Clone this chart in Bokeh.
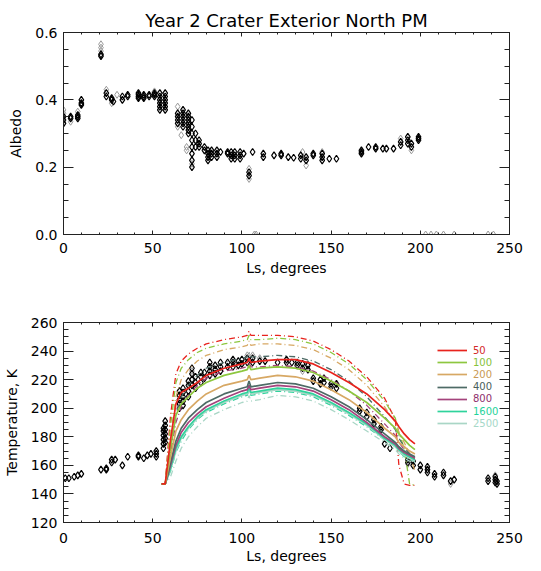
from bokeh.plotting import figure
from bokeh.layouts import column
from bokeh.models import (Range1d, LinearAxis, FixedTicker, PrintfTickFormatter,
                          CustomJSTickFormatter, Legend, LegendItem)
from bokeh.embed import file_html
from bokeh.resources import INLINE

FONT = "DejaVu Sans"

# ---------------- data ----------------
x_ticks = [0, 50, 100, 150, 200, 250]
x_minor = [10, 20, 30, 40, 60, 70, 80, 90, 110, 120, 130, 140, 160, 170, 180, 190, 210, 220, 230, 240]
alb_ticks = [0.0, 0.2, 0.4, 0.6]
alb_minor = [0.05, 0.1, 0.15, 0.25, 0.3, 0.35, 0.45, 0.5, 0.55]
temp_ticks = [120, 140, 160, 180, 200, 220, 240, 260]
temp_minor = [125, 130, 135, 145, 150, 155, 165, 170, 175, 185, 190, 195, 205, 210, 215,
              225, 230, 235, 245, 250, 255]

# Albedo observations (black)
alb_ls = [0, 0, 0, 4, 4, 8, 8, 8, 10, 10, 10, 21, 21, 24, 24, 27, 27, 28, 33, 33, 36, 36,
          42, 42, 42, 42, 45, 45, 45, 48, 48, 51, 51, 51,
          54, 54, 54, 54, 54, 54, 57, 57, 57, 57, 57, 57,
          64, 64, 64, 64, 67, 67, 67, 67, 67, 67,
          70, 70, 70, 70, 70, 70, 70,
          72, 72, 72, 72, 72, 72, 72, 72,
          74, 74, 74, 76, 76, 76, 79, 79, 81, 81, 81, 81, 83, 83, 83, 86, 86, 86, 88,
          92, 92, 94, 94, 94, 96, 96, 96, 99, 99, 99, 101, 104, 104, 106,
          112, 112, 118, 122, 122, 126, 129, 133, 133, 136, 136, 140, 140, 145, 145, 145,
          149, 153, 167, 167, 167, 171, 175, 175, 179, 181, 185, 189, 189,
          193, 193, 193, 195, 195, 199, 199, 199]
alb_val = [0.33, 0.34, 0.35, 0.345, 0.35, 0.345, 0.35, 0.355, 0.385, 0.39, 0.40, 0.53, 0.535,
           0.41, 0.42, 0.40, 0.405, 0.395, 0.40, 0.41, 0.41, 0.415,
           0.405, 0.41, 0.415, 0.42, 0.405, 0.41, 0.415, 0.41, 0.415, 0.41, 0.415, 0.42,
           0.37, 0.38, 0.39, 0.40, 0.41, 0.42, 0.37, 0.38, 0.39, 0.40, 0.41, 0.42,
           0.33, 0.34, 0.35, 0.36, 0.32, 0.33, 0.34, 0.35, 0.36, 0.37,
           0.30, 0.31, 0.32, 0.33, 0.34, 0.35, 0.36,
           0.20, 0.22, 0.24, 0.26, 0.28, 0.30, 0.32, 0.34,
           0.26, 0.28, 0.30, 0.26, 0.27, 0.28, 0.25, 0.26, 0.22, 0.23, 0.24, 0.25,
           0.23, 0.24, 0.25, 0.23, 0.24, 0.25, 0.245,
           0.24, 0.245, 0.225, 0.235, 0.245, 0.225, 0.235, 0.245, 0.225, 0.235, 0.245,
           0.24, 0.175, 0.185, 0.245,
           0.23, 0.24, 0.235, 0.235, 0.24, 0.23, 0.228, 0.225, 0.235, 0.22, 0.23,
           0.235, 0.24, 0.22, 0.23, 0.24,
           0.225, 0.225, 0.24, 0.245, 0.25, 0.26, 0.255, 0.26, 0.255, 0.255, 0.255,
           0.265, 0.275, 0.27, 0.28, 0.29, 0.26, 0.27, 0.28, 0.285, 0.29]

# Albedo observations (grey)
alb_ls_grey = [0, 0, 4, 8, 21, 21, 21, 24, 27, 30, 51, 64, 64, 66, 69, 69, 72, 104, 104,
               134, 136, 145, 189, 195, 107, 108, 203, 206, 209, 213, 219, 238, 241]
alb_val_grey = [0.36, 0.37, 0.335, 0.365, 0.545, 0.555, 0.565, 0.43, 0.39, 0.415, 0.425,
                0.38, 0.32, 0.295, 0.25, 0.26, 0.21, 0.165, 0.195,
                0.245, 0.205, 0.245, 0.285, 0.25, 0.0, 0.0, 0.0, 0.0, 0.0, 0.0, 0.0, 0.0, 0.0]

# Temperature observations (black)
temp_ls = [1, 3, 6, 8, 10, 21, 24, 24, 27, 27, 29, 33, 36, 42, 42, 45, 47, 49, 52, 52, 52,
           56, 56, 56, 56, 56, 56, 57, 57, 57, 57, 57, 57,
           65, 65, 65, 65, 65, 67, 67, 67, 67, 67, 70, 70, 70, 70, 72, 72, 72, 72,
           74, 74, 74, 77, 77, 77, 79, 79, 82, 82, 82, 82, 85, 85, 85, 88, 88, 88,
           92, 92, 95, 95, 95, 98, 98, 100, 100, 103, 103, 106, 106, 110, 113, 120,
           125, 125, 128, 131, 131, 134, 134, 137, 137, 140, 140, 144, 144, 146, 146,
           150, 150, 153, 153, 166, 166, 170, 170, 174, 174, 178, 178, 180, 183,
           193, 193, 193, 196, 196, 200, 200, 204, 204, 204, 208, 208, 213, 213, 217, 219,
           238, 238, 242, 242, 242, 243, 243]
temp_val = [151, 151, 152, 153, 154, 157, 157, 158, 162, 164, 164, 160, 166, 166, 167, 165,
            167, 168, 166, 168, 170,
            172, 175, 178, 181, 184, 186, 176, 179, 182, 185, 188, 191,
            200, 203, 206, 209, 212, 202, 205, 208, 211, 214, 208, 212, 216, 219,
            216, 220, 224, 228, 214, 218, 222, 218, 222, 225, 221, 225,
            223, 226, 229, 232, 224, 227, 230, 226, 229, 232,
            229, 232, 229, 232, 234, 230, 233, 231, 234, 232, 235, 232, 235, 233, 233, 232,
            232, 234, 232, 230, 232, 228, 231, 227, 230, 219, 221, 217, 220, 218, 221,
            215, 217, 214, 217, 198, 200, 194, 197, 189, 192, 185, 187, 175, 172,
            162, 164, 166, 160, 163, 157, 160, 155, 157, 159, 152, 154, 153, 155, 149, 150,
            149, 151, 148, 150, 152, 147, 149]

# Temperature observations (grey)
temp_ls_grey = [57, 72, 103, 106, 110, 134, 137, 193, 217, 242]
temp_val_grey = [178, 226, 237, 237, 235, 226, 231, 161, 147, 153]

# Model curves: Ls grid and temperatures per thermal inertia
model_ls = [55, 57, 60, 63, 66, 70, 75, 80, 90, 100, 103, 104, 105, 110, 120, 130, 140,
            150, 160, 170, 180, 186, 188, 191, 194, 197]
inertia = [50, 100, 200, 400, 800, 1600, 2500]
colors = ["#e8231d", "#8dc73f", "#d7a864", "#4d6b66", "#a4437c", "#2fd39c", "#a9d6c6"]
label_colors = ["#d42a2a", "#86c23a", "#c99a55", "#4a5f5c", "#8e2f6c", "#1fd39a", "#a6d8c8"]

solid_T = {
    50:   [147, 147, 178, 203, 211, 214, 218, 223, 228, 231, 232, 235, 232, 233, 234, 234, 231,
           225, 218, 210, 199, 191, 187, 182, 178, 175],
    100:  [147, 147, 172, 195, 203, 208, 214, 218, 223, 226, 227, 230, 227, 228, 229, 228, 225,
           219, 212, 204, 193, 186, 182, 178, 174, 171],
    200:  [147, 147, 166, 184, 192, 199, 205, 210, 216, 219, 220, 223, 220, 221, 223, 222, 219,
           213, 206, 197, 186, 180, 176, 173, 170, 168],
    400:  [147, 147, 162, 177, 186, 193, 199, 204, 210, 214, 215, 219, 215, 216, 218, 217, 214,
           208, 201, 192, 182, 176, 173, 170, 168, 166],
    800:  [147, 147, 160, 174, 183, 190, 196, 201, 207, 212, 213, 216, 213, 214, 216, 215, 212,
           206, 199, 190, 180, 175, 172, 169, 167, 165],
    1600: [147, 147, 158, 172, 180, 187, 194, 199, 205, 210, 211, 215, 211, 212, 214, 213, 210,
           204, 197, 189, 179, 174, 171, 168, 166, 164],
    2500: [147, 147, 157, 170, 179, 186, 193, 198, 204, 209, 210, 213, 210, 211, 213, 212, 209,
           203, 196, 188, 178, 173, 170, 167, 165, 163],
}
dashdot_T = {
    50:   [147, 147, 195, 224, 233, 238, 242, 245, 248, 250, 251, 254, 251, 251, 251, 250, 247,
           241, 233, 222, 207, 192, 160, 147, 146, 146],
    100:  [147, 147, 188, 218, 228, 234, 239, 242, 245, 247, 248, 251, 248, 248, 249, 248, 245,
           239, 231, 220, 205, 193, 183, 172, 147, 146],
    200:  [147, 147, 180, 208, 220, 227, 233, 237, 241, 243, 244, 247, 244, 245, 245, 244, 241,
           235, 227, 216, 201, 190, 183, 176, 168, 156],
    400:  [147, 147, 172, 196, 208, 216, 223, 228, 232, 235, 236, 239, 236, 236, 237, 236, 233,
           227, 219, 208, 194, 185, 179, 173, 168, 165],
    800:  [147, 147, 168, 190, 201, 209, 216, 221, 226, 228, 229, 232, 229, 229, 230, 229, 226,
           220, 212, 202, 189, 181, 176, 171, 167, 164],
    1600: [147, 147, 156, 169, 177, 185, 192, 197, 203, 208, 209, 213, 209, 210, 212, 211, 208,
           202, 195, 187, 178, 173, 170, 166, 164, 163],
    2500: [147, 147, 152, 163, 172, 180, 187, 193, 199, 204, 205, 209, 205, 206, 209, 208, 205,
           199, 192, 184, 176, 171, 168, 165, 163, 162],
}

TITLE = "Year 2 Crater Exterior North PM"
BLANK = CustomJSTickFormatter(code="return ''")


def style_axis(ax, major, minor, tick_in, minor_in, show_labels=True, fmt=None):
    ax.ticker = FixedTicker(ticks=major, minor_ticks=minor)
    ax.major_tick_in = tick_in
    ax.major_tick_out = 0
    ax.minor_tick_in = minor_in
    ax.minor_tick_out = 0
    ax.axis_line_color = "#222222"
    ax.major_tick_line_color = "#222222"
    ax.minor_tick_line_color = "#222222"
    if show_labels:
        if fmt is not None:
            ax.formatter = fmt
        ax.major_label_text_font = FONT
        ax.major_label_text_font_size = "14px"
        ax.major_label_text_color = "black"
        ax.axis_label_text_font = FONT
        ax.axis_label_text_font_size = "14px"
        ax.axis_label_text_font_style = "normal"
        ax.axis_label_text_color = "black"
    else:
        ax.formatter = BLANK
        ax.major_label_text_font_size = "1px"
        ax.major_label_standoff = 0


def box_axes(p, xmaj, xmin, ymaj, ymin, xlabel, ylabel, yfmt=None, x_stand=(8, 4)):
    bottom = p.below[0]
    left = p.left[0]
    style_axis(bottom, xmaj, xmin, 4, 2)
    bottom.major_label_standoff = x_stand[0]
    bottom.axis_label_standoff = x_stand[1]
    bottom.axis_label = xlabel
    style_axis(left, ymaj, ymin, 10, 5, fmt=yfmt)
    left.major_label_standoff = 6
    left.axis_label_standoff = 8
    left.axis_label = ylabel
    top = LinearAxis()
    style_axis(top, xmaj, xmin, 4, 2, show_labels=False)
    p.add_layout(top, "above")
    right = LinearAxis()
    style_axis(right, ymaj, ymin, 10, 5, show_labels=False)
    p.add_layout(right, "right")
    p.grid.visible = False
    p.outline_line_color = "#222222"


# ---------------- top panel: albedo ----------------
p1 = figure(width=541, height=290, x_range=Range1d(0, 250), y_range=Range1d(0, 0.6),
            output_backend="svg", toolbar_location=None,
            min_border_left=63, min_border_right=32, min_border_top=32, min_border_bottom=56,
            title=TITLE)
p1.title.text_font = FONT
p1.title.text_font_size = "18px"
p1.title.text_font_style = "normal"
p1.title.text_color = "black"
p1.title.align = "center"
p1.title.standoff = 3
p1.title.offset = 0
box_axes(p1, x_ticks, x_minor, alb_ticks, alb_minor, "Ls, degrees", "Albedo",
         yfmt=PrintfTickFormatter(format="%.1f"), x_stand=(8, 4))

p1.scatter(alb_ls_grey, alb_val_grey, marker="diamond", size=7, fill_alpha=0,
           line_color="#9a9a9a", line_width=1)
p1.scatter(alb_ls, alb_val, marker="diamond", size=7, fill_alpha=0,
           line_color="black", line_width=1.2)

# ---------------- bottom panel: temperature ----------------
p2 = figure(width=541, height=281, x_range=Range1d(0, 250), y_range=Range1d(120, 260),
            output_backend="svg", toolbar_location=None,
            min_border_left=63, min_border_right=32, min_border_top=32, min_border_bottom=49)
box_axes(p2, x_ticks, x_minor, temp_ticks, temp_minor, "Ls, degrees", "Temperature, K",
         x_stand=(10, 2))

p2.scatter(temp_ls_grey, temp_val_grey, marker="diamond", size=7, fill_alpha=0,
           line_color="#9a9a9a", line_width=1)
p2.scatter(temp_ls, temp_val, marker="diamond", size=7, fill_alpha=0,
           line_color="black", line_width=1.2)

for ti, col in zip(inertia, colors):
    p2.line(model_ls, dashdot_T[ti], line_color=col, line_width=1.3, line_dash="6 3 1 3")
solid_r = {}
for ti, col in zip(inertia[::-1], colors[::-1]):
    solid_r[ti] = p2.line(model_ls, solid_T[ti], line_color=col, line_width=1.7)

for i, (ti, lc) in enumerate(zip(inertia, label_colors)):
    row_y = 350 + 12.2 * i
    leg = Legend(items=[LegendItem(label=str(ti), renderers=[solid_r[ti]])],
                 location=(374, 516 - row_y),
                 label_text_color=lc, label_text_font=FONT, label_text_font_size="10px",
                 glyph_width=30, glyph_height=12, label_height=12, label_standoff=6,
                 padding=0, margin=0, spacing=0,
                 border_line_alpha=0, background_fill_alpha=0)
    p2.add_layout(leg)

layout = column(p1, p2)
open("out.html", "w").write(file_html(layout, INLINE))
